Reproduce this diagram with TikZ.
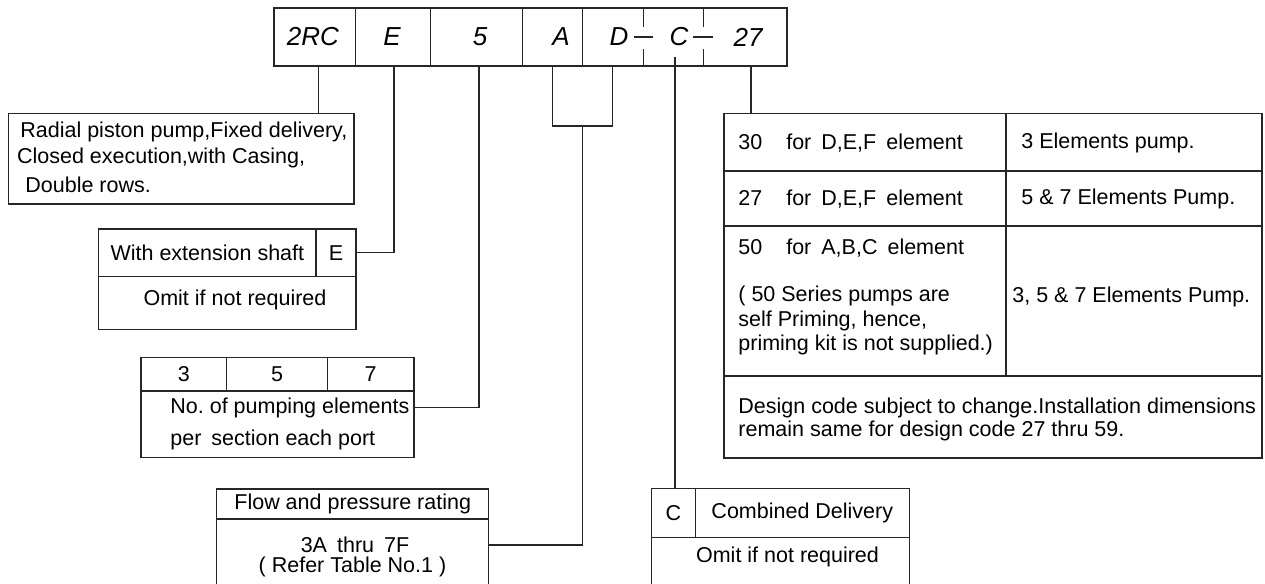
\documentclass[tikz,border=0pt]{standalone}
\usepackage{fontspec}
\setmainfont{Liberation Sans}
\frenchspacing
\begin{document}
\begin{tikzpicture}[x=0.5pt,y=-0.5pt,
  bx/.style 2 args={draw=black!85, line width=0.55pt, rectangle, inner sep=0pt, outer sep=0pt,
     minimum width=#1*0.5pt, minimum height=#2*0.5pt, anchor=north west},
  ln/.style={draw=black!85, line width=0.55pt},
  tx/.style={inner sep=0pt, font=\fontsize{10.75}{12}\selectfont\frenchspacing},
  txl/.style={tx, anchor=west},
  cd/.style={inner sep=0pt, font=\fontsize{13}{15}\selectfont\itshape}]
\useasboundingbox (0,0) rectangle (1265,584);
\clip (0,0) rectangle (1265,584);

% ---- code row ----
\node[bx={513}{58}] (code) at (274,8) {};
\draw[ln] (355.7,8) -- (355.7,66);
\draw[ln] (430.5,8) -- (430.5,66);
\draw[ln] (522.2,8) -- (522.2,66);
\draw[ln] (582.8,8) -- (582.8,66);
\draw[ln] (643.2,8) -- (643.2,27) (643.2,49) -- (643.2,66);
\draw[ln] (703.5,8) -- (703.5,27) (703.5,49) -- (703.5,66);
\node[cd] (c2rc) at (313,37) {2RC};
\node[cd] (cE) at (392,37) {E};
\node[cd] (c5) at (480,37) {5};
\node[cd] (cA) at (561,37) {A};
\node[cd] (cD) at (619,37) {D};
\node[cd] (cC) at (679,37) {C};
\node[cd] (c27) at (748,37) {27};
\draw[ln] (634,37) -- (653,37);
\draw[ln] (693,37) -- (713,37);

% ---- description box ----
\node[bx={345.7}{90.7}] (desc) at (8.3,113.3) {};
\node[txl] (d1) at (20,131.5) {Radial piston pump,Fixed delivery,};
\node[txl] (d2) at (16.7,158.3) {Closed execution,with Casing,};
\node[txl] (d3) at (25,185) {Double rows.};

% ---- extension shaft ----
\node[bx={217.3}{47.7}] (extA) at (98.7,229) {};
\node[bx={40}{47.7}] (extE) at (316,229) {};
\node[bx={257.3}{52.6}] (extB) at (98.7,276.7) {};
\node[tx] at (extA) {With extension shaft};
\node[tx] at (extE) {E};
\node[tx] (extO) at (235,300) {Omit if not required};

% ---- pumping elements ----
\node[bx={85.7}{33.3}] (n3) at (141,357.7) {};
\node[bx={100.6}{33.3}] (n5) at (226.7,357.7) {};
\node[bx={86.7}{33.3}] (n7) at (327.3,357.7) {};
\node[bx={273}{66.7}] (nB) at (141,391) {};
\node[tx] at (n3) {3};
\node[tx] at (n5) {5};
\node[tx] at (n7) {7};
\node[txl] (nt1) at (170,407.5) {No. of pumping elements};
\node[txl] (nt2) at (170,440) {per\hspace{5pt}section each port};

% ---- flow and pressure ----
\node[bx={272}{30}] (fA) at (216.7,489) {};
\node[bx={272}{130}] (fB) at (216.7,519) {};
\node[tx] at (fA) {Flow and pressure rating};
\node[tx] (ft1) at (355,545) {3A\hspace{5pt}thru\hspace{5pt}7F};
\node[tx] (ft2) at (352.5,567) {( Refer Table No.1 )};

% ---- combined delivery ----
\node[bx={43.6}{49}] (cc) at (651.7,488.7) {};
\node[bx={214}{49}] (ccd) at (695.3,488.7) {};
\node[bx={257.6}{110}] (cco) at (651.7,537.7) {};
\node[tx] at (cc) {C};
\node[tx] at (ccd) {Combined Delivery};
\node[tx] (cot) at (787.5,557) {Omit if not required};

% ---- design code table ----
\node[bx={282}{57.7}] (t11) at (724,113.3) {};
\node[bx={256}{57.7}] (t12) at (1006,113.3) {};
\node[bx={282}{55}] (t21) at (724,171) {};
\node[bx={256}{55}] (t22) at (1006,171) {};
\node[bx={282}{150}] (t31) at (724,226) {};
\node[bx={256}{150}] (t32) at (1006,226) {};
\node[bx={538}{82}] (t4) at (724,376) {};
\node[txl] at (738,143) {30\hspace{12pt}for\hspace{5pt}D,E,F\hspace{5pt}element};
\node[txl] at (1021,143) {3 Elements pump.};
\node[txl] at (738,199) {27\hspace{12pt}for\hspace{5pt}D,E,F\hspace{5pt}element};
\node[txl] at (1021,199) {5 \& 7 Elements Pump.};
\node[txl] at (738,248) {50\hspace{12pt}for\hspace{5pt}A,B,C\hspace{5pt}element};
\node[txl] at (738,296) {( 50 Series pumps are};
\node[txl] at (738,321) {self Priming, hence,};
\node[txl] at (738,345) {priming kit is not supplied.)};
\node[txl] at (1012,297) {3, 5 \& 7 Elements Pump.};
\node[txl] at (738,408) {Design code subject to change.Installation dimensions};
\node[txl] at (738,431) {remain same for design code 27 thru 59.};

% ---- connectors ----
\coordinate (p2rc) at (318.5,66);
\draw[ln] (p2rc) -- (p2rc |- desc.north);
\coordinate (pE) at (394,66);
\draw[ln] (pE) |- (extE.east);
\coordinate (p5) at (479,66);
\draw[ln] (p5) |- (nt1 -| nB.east);
\coordinate (bA) at (552.5,66);
\coordinate (bD) at (612.5,66);
\coordinate (brc) at (582.7,126);
\draw[ln] (bA) |- (brc) -| (bD);
\draw[ln] (brc) |- (ft1 -| fB.east);
\coordinate (pC) at (675,57);
\draw[ln] (pC) -- (pC |- cc.north);
\coordinate (p27) at (751,66);
\draw[ln] (p27) -- (p27 |- t11.north);
\end{tikzpicture}
\end{document}
